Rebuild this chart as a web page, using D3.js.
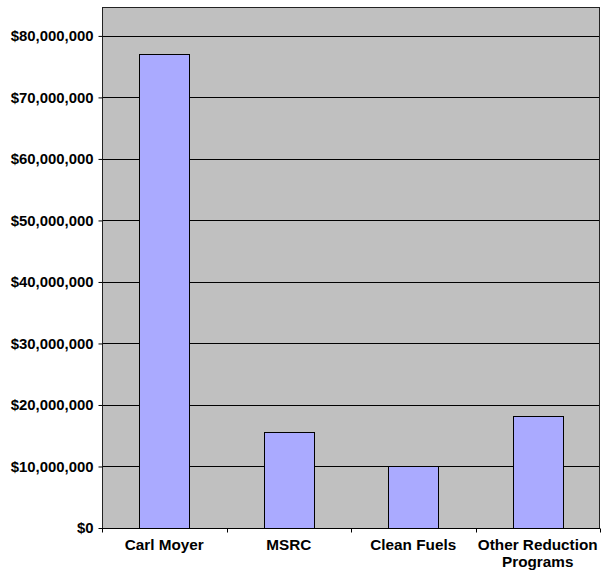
<!DOCTYPE html>
<html>
<head>
<meta charset="utf-8">
<script src="https://cdn.jsdelivr.net/npm/d3@7"></script>
<style>
  body { margin: 0; background: #fff; }
  text { font-family: "Liberation Sans", Arial, sans-serif; font-weight: bold; fill: #000; }
</style>
</head>
<body>
<div id="chart"></div>
<script>
const categories = ["Carl Moyer", "MSRC", "Clean Fuels", "Other Reduction Programs"];
const amounts = [77100000, 15600000, 10000000, 18200000];
const tickValues = [0, 10000000, 20000000, 30000000, 40000000, 50000000, 60000000, 70000000, 80000000];

document.addEventListener("DOMContentLoaded", function () {
  const margin = { top: 7, right: 2, bottom: 43, left: 102 };
  const width = 602 - margin.left - margin.right;
  const height = 571 - margin.top - margin.bottom;

  const svg = d3
    .select("#chart")
    .append("svg")
    .attr("width", 602)
    .attr("height", 571)
    .append("g")
    .attr("transform", `translate(${margin.left},${margin.top})`);

  const data = categories.map((c, i) => ({ name: c, value: amounts[i] }));

  // Scales
  const x = d3
    .scaleBand()
    .domain(categories)
    .range([0, width])
    .paddingInner(0.6)
    .paddingOuter(0.3);

  const y = d3
    .scaleLinear()
    .domain([0, 84700000])
    .range([height, 0]);

  // Plot area background
  svg
    .append("rect")
    .attr("width", width)
    .attr("height", height)
    .attr("fill", "#c0c0c0");

  // Gridlines
  svg
    .append("g")
    .selectAll("line")
    .data(tickValues.slice(1))
    .enter()
    .append("line")
    .attr("x1", 0)
    .attr("x2", width)
    .attr("y1", d => Math.round(y(d)) + 0.5)
    .attr("y2", d => Math.round(y(d)) + 0.5)
    .attr("stroke", "#000")
    .attr("stroke-width", 1);

  // Bars
  svg
    .selectAll(".bar")
    .data(data)
    .enter()
    .append("rect")
    .attr("class", "bar")
    .attr("x", d => Math.round(x(d.name)) + 0.5)
    .attr("y", d => Math.round(y(d.value)) + 0.5)
    .attr("width", Math.round(x.bandwidth()))
    .attr("height", d => height - Math.round(y(d.value)))
    .attr("fill", "#aaaaff")
    .attr("stroke", "#000")
    .attr("stroke-width", 1);

  // Plot border
  svg
    .append("rect")
    .attr("x", 0.5)
    .attr("y", 0.5)
    .attr("width", width - 1)
    .attr("height", height)
    .attr("fill", "none")
    .attr("stroke", "#222");

  // Y-axis
  const yAxis = svg
    .append("g")
    .attr("transform", "translate(0.5,0)")
    .call(
      d3.axisLeft(y)
        .tickValues(tickValues)
        .tickSize(4)
        .tickPadding(5)
        .tickFormat(d => "$" + d3.format(",")(d))
    );
  yAxis.select(".domain").remove();
  yAxis.selectAll(".tick line").attr("stroke", "#000");
  yAxis.selectAll("text").style("font-size", "14.9px").style("font-family", "'Liberation Sans', Arial, sans-serif").style("font-weight", "bold");

  // X-axis line and ticks at band boundaries
  const xAxis = svg.append("g").attr("transform", `translate(0,${height + 0.5})`);
  xAxis
    .append("line")
    .attr("x1", 0)
    .attr("x2", width)
    .attr("stroke", "#000");
  const step = x.step();
  xAxis
    .selectAll(".xtick")
    .data(d3.range(categories.length + 1))
    .enter()
    .append("line")
    .attr("x1", i => Math.round(i * step) + 0.5)
    .attr("x2", i => Math.round(i * step) + 0.5)
    .attr("y1", 0)
    .attr("y2", 4)
    .attr("stroke", "#000");

  // Category labels, wrapped to the band width
  const labels = xAxis
    .selectAll(".xlabel")
    .data(categories)
    .enter()
    .append("text")
    .attr("x", d => x(d) + x.bandwidth() / 2)
    .attr("y", 21)
    .attr("text-anchor", "middle")
    .style("font-size", "15.3px");

  labels.each(function (d) {
    const t = d3.select(this);
    const words = d.split(" ");
    let line = [];
    let tspan = t.append("tspan").attr("x", t.attr("x")).attr("dy", 0);
    words.forEach(w => {
      line.push(w);
      tspan.text(line.join(" "));
      if (tspan.node().getComputedTextLength() > step - 2 && line.length > 1) {
        line.pop();
        tspan.text(line.join(" "));
        line = [w];
        tspan = t.append("tspan").attr("x", t.attr("x")).attr("dy", "1.12em").text(w);
      }
    });
  });
});
</script>
</body>
</html>
